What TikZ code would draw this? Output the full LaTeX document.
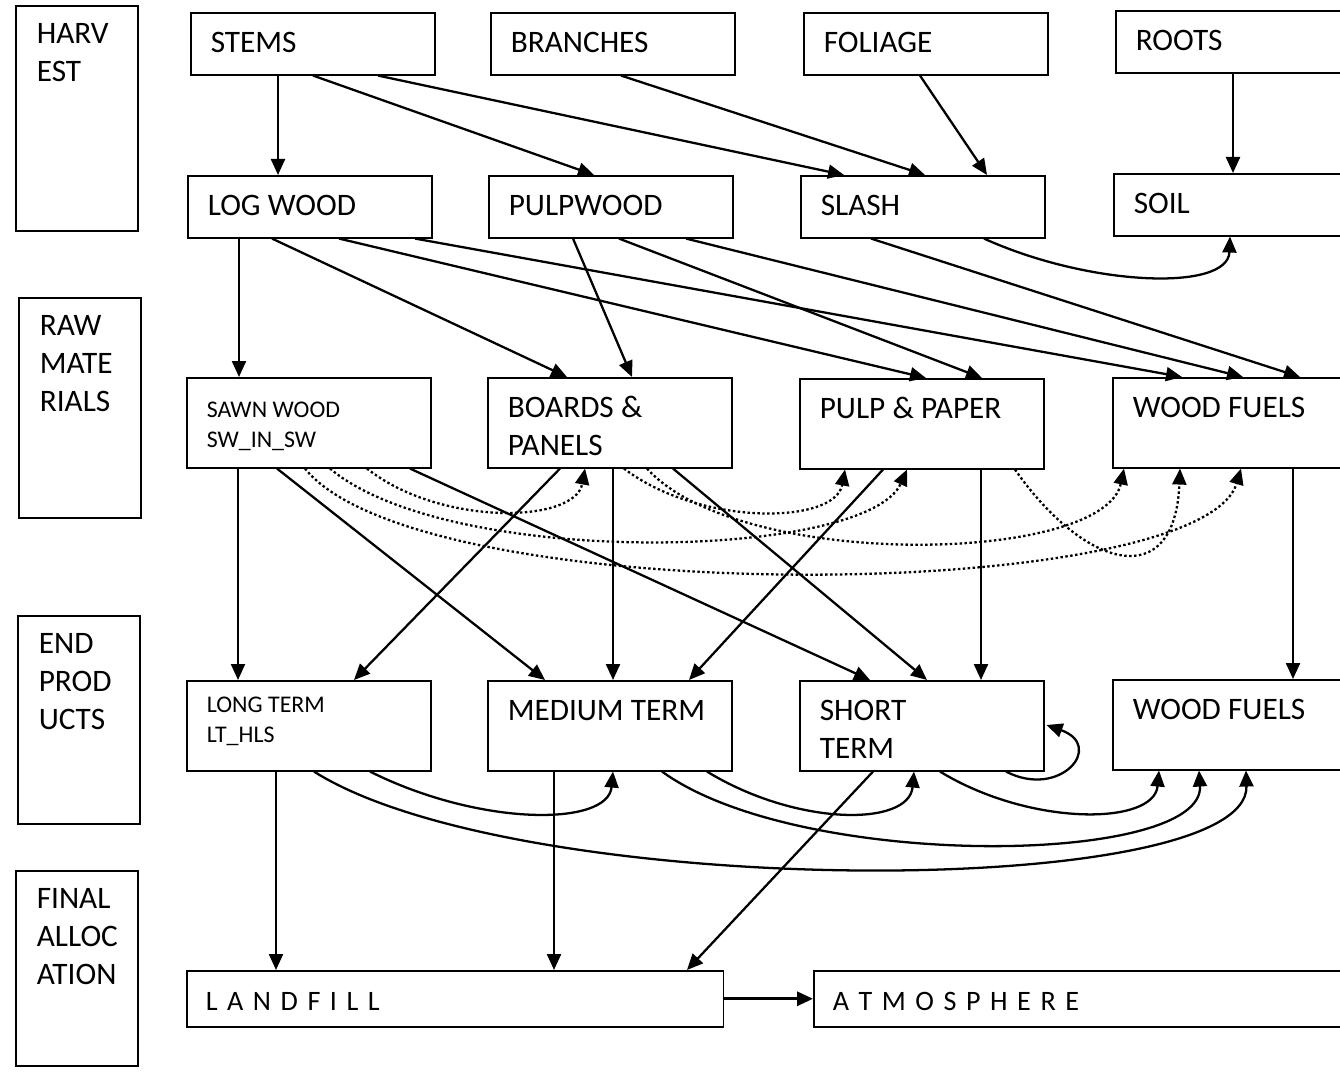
\documentclass[tikz,border=0pt]{standalone}
\usepackage{fontspec}
\setmainfont{Carlito}
\usetikzlibrary{arrows.meta,calc}
\hyphenpenalty=10000

\begin{document}
\begin{tikzpicture}[
  x=0.02cm, y=-0.02cm,
  box/.style={rectangle, draw, line width=0.9pt, anchor=north west, align=left, inner xsep=0.4cm, inner ysep=0pt, text width=4.08cm, text height=0.8cm, text depth=0.44cm, font=\fontsize{17.8}{21.6}\selectfont, execute at begin node={\spaceskip=0.23em plus 0.1em\relax}},
  tallbox/.style={box, text depth=1.0cm},
  smallbox/.style={tallbox, font=\fontsize{13.6}{16.8}\selectfont},
  stage/.style={box, inner xsep=0.42cm, text width=1.6cm, text height=0.76cm},
  sink/.style={box, inner xsep=0.38cm, text depth=0.32cm, font=\fontsize{16}{19}\selectfont, execute at begin node={\spaceskip=0.34em\relax}},
  arrow/.style={-{Triangle[length=3.2mm,width=2.8mm]}, line width=1.3pt},
  dotarrow/.style={arrow, dash pattern=on 1.4pt off 1.4pt}
]
\useasboundingbox (0,0) rectangle (1340,1074);
\clip (0,0) rectangle (1340,1074);

\node[stage, text depth=3.74cm] (harvest) at (15,5) {HARV\\EST};
\node[stage, text depth=3.64cm] (rawmat) at (18,297) {RAW\\MATE\\RIALS};
\node[stage, text depth=3.4cm] (endprod) at (17,615) {END\\PROD\\UCTS};
\node[stage, text depth=3.14cm] (finalalloc) at (15,870) {FINAL\\ALLOC\\ATION};

\node[box] (stems) at (190,12) {STEMS};
\node[box] (branches) at (490,12) {BRANCHES};
\node[box] (foliage) at (803,12) {FOLIAGE};
\node[box] (roots) at (1115,10) {ROOTS};

\node[box] (logwood) at (187,175) {LOG WOOD};
\node[box] (pulpwood) at (488,175) {PULPWOOD};
\node[box] (slash) at (800,175) {SLASH};
\node[box] (soil) at (1113,173) {SOIL};

\node[smallbox] (sawn) at (186,377) {SAWN WOOD\\SW\_IN\_SW};
\node[tallbox] (boards) at (487,377) {BOARDS \&\\PANELS};
\node[tallbox] (pulp) at (799,378) {PULP \& PAPER};
\node[tallbox] (fuelsraw) at (1112,377) {WOOD FUELS};

\node[smallbox, text height=0.64cm, text depth=1.16cm] (longterm) at (186,680) {LONG TERM\\LT\_HLS};
\node[tallbox] (medterm) at (487,680) {MEDIUM TERM};
\node[tallbox] (shortterm) at (799,680) {SHORT\\TERM};
\node[tallbox] (fuelsend) at (1112,679) {WOOD FUELS};

\node[sink, text width=9.98cm] (landfill) at (186,970) {L A N D F I L L};
\node[sink, text width=10cm] (atmos) at (813,970) {A T M O S P H E R E};

\draw[arrow] ($(stems.south west)+(88,0)$) -- ($(logwood.north west)+(91,0)$);
\draw[arrow] ($(stems.south west)+(123,0)$) -- ($(pulpwood.north west)+(106,0)$);
\draw[arrow] ($(stems.south west)+(188,0)$) -- ($(slash.north west)+(44,0)$);
\draw[arrow] ($(branches.south west)+(131,0)$) -- ($(slash.north west)+(125,0)$);
\draw[arrow] ($(foliage.south west)+(117,0)$) -- ($(slash.north west)+(187,0)$);
\draw[arrow] ($(roots.south west)+(118,0)$) -- ($(soil.north west)+(120,0)$);

\draw[arrow] ($(logwood.south west)+(52,0)$) -- ($(sawn.north west)+(53,0)$);
\draw[arrow] ($(logwood.south west)+(85,0)$) -- ($(boards.north west)+(80,0)$);
\draw[arrow] ($(logwood.south west)+(152,0)$) -- ($(pulp.north west)+(127,0)$);
\draw[arrow] ($(logwood.south west)+(228,0)$) -- ($(fuelsraw.north west)+(70,0)$);
\draw[arrow] ($(pulpwood.south west)+(85,0)$) -- ($(boards.north west)+(145,0)$);
\draw[arrow] ($(pulpwood.south west)+(131,0)$) -- ($(pulp.north west)+(183,0)$);
\draw[arrow] ($(pulpwood.south west)+(198,0)$) -- ($(fuelsraw.north west)+(131,0)$);
\draw[arrow] ($(slash.south west)+(71,0)$) -- ($(fuelsraw.north west)+(188,0)$);
\draw[arrow] ($(slash.south west)+(184,0)$) .. controls +(106,48) and +(-2,55) .. ($(soil.south west)+(117,0)$);

\draw[arrow] ($(sawn.south west)+(52,0)$) -- ($(longterm.north west)+(52,0)$);
\draw[arrow] ($(sawn.south west)+(91,0)$) -- ($(medterm.north west)+(58,0)$);
\draw[arrow] ($(sawn.south west)+(224,0)$) -- ($(shortterm.north west)+(71,0)$);
\draw[arrow] ($(boards.south west)+(73,0)$) -- ($(longterm.north west)+(168,0)$);
\draw[arrow] ($(boards.south west)+(126,0)$) -- ($(medterm.north west)+(126,0)$);
\draw[arrow] ($(boards.south west)+(186,0)$) -- ($(shortterm.north west)+(128,0)$);
\draw[arrow] ($(pulp.south west)+(84,0)$) -- ($(medterm.north west)+(202,0)$);
\draw[arrow] ($(pulp.south west)+(182,0)$) -- ($(shortterm.north west)+(182,0)$);
\draw[arrow] ($(fuelsraw.south west)+(181,0)$) -- ($(fuelsend.north west)+(181,0)$);

\draw[dotarrow] ($(sawn.south west)+(181,0)$) .. controls +(73,58) and +(-10,55) .. ($(boards.south west)+(98,0)$);
\draw[dotarrow] ($(sawn.south west)+(144,0)$) .. controls +(120,101) and +(-40,90) .. ($(pulp.south west)+(108,0)$);
\draw[dotarrow] ($(sawn.south west)+(119,0)$) .. controls +(115,143) and +(-40,135) .. ($(fuelsraw.south west)+(129,0)$);
\draw[dotarrow] ($(boards.south west)+(137,0)$) .. controls +(76,58) and +(-10,55) .. ($(pulp.south west)+(46,0)$);
\draw[dotarrow] ($(boards.south west)+(160,0)$) .. controls +(93,103) and +(-20,95) .. ($(fuelsraw.south west)+(12,0)$);
\draw[dotarrow] ($(pulp.south west)+(216,0)$) .. controls +(70,100) and +(-5,125) .. ($(fuelsraw.south west)+(68,0)$);

\draw[arrow] ($(longterm.south west)+(184,0)$) .. controls +(110,55) and +(-5,55) .. ($(medterm.south west)+(126,0)$);
\draw[arrow] ($(longterm.south west)+(128,0)$) .. controls +(206,130) and +(4,130) .. ($(fuelsend.south west)+(134,0)$);
\draw[arrow] ($(medterm.south west)+(220,0)$) .. controls +(90,55) and +(-5,55) .. ($(shortterm.south west)+(115,0)$);
\draw[arrow] ($(medterm.south west)+(175,0)$) .. controls +(138,100) and +(6,95) .. ($(fuelsend.south west)+(87,0)$);
\draw[arrow] ($(shortterm.south west)+(141,0)$) .. controls +(90,55) and +(-5,55) .. ($(fuelsend.south west)+(47,0)$);
\draw[arrow] ($(shortterm.south west)+(207,0)$) .. controls +(54,28) and +(59,21) .. ($(shortterm.north east)+(2,45)$);

\draw[arrow] ($(longterm.south west)+(90,0)$) -- ($(landfill.north west)+(90,0)$);
\draw[arrow] ($(medterm.south west)+(67,0)$) -- ($(landfill.north west)+(368,0)$);
\draw[arrow] ($(shortterm.south west)+(74,0)$) -- ($(landfill.north west)+(501,0)$);
\draw[arrow, line width=1.8pt] (landfill) -- (atmos);
\end{tikzpicture}
\end{document}
